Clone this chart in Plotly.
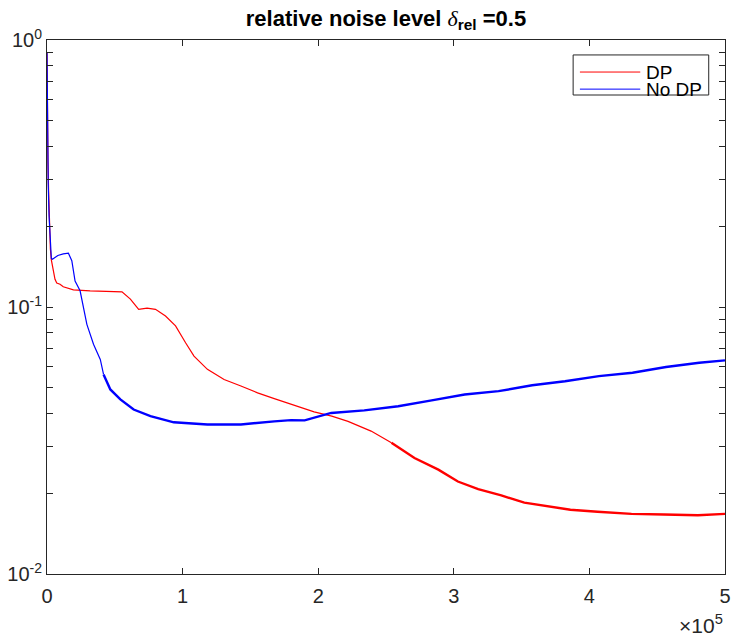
import plotly.graph_objects as go

# iterations (x) and relative error (y)
dp_x = [0, 150, 350, 700, 1200, 1800, 2500, 3200, 4200, 5900, 7200, 9600, 12000,
        19500, 31800, 45000, 55300, 61500, 67600, 73800, 80000, 87400, 94800,
        102200, 108400, 118300, 130600, 143000, 155300, 167600, 180000, 197000,
        210000, 222000, 239000, 254000, 271000, 288600, 303000, 318000, 335000,
        352000, 369000, 386000, 406000, 431000, 455000, 480000, 500000]
dp_y = [0.9, 0.62, 0.45, 0.35, 0.27, 0.2, 0.165, 0.15, 0.14, 0.127, 0.123, 0.1217, 0.119,
        0.116, 0.115, 0.1145, 0.114, 0.107, 0.098, 0.099, 0.098, 0.0925, 0.085,
        0.0735, 0.0655, 0.0584, 0.0535, 0.0506, 0.0477, 0.0454, 0.0433, 0.0405,
        0.039, 0.0373, 0.0343, 0.031, 0.0272, 0.0246, 0.0222, 0.0208, 0.0197,
        0.0185, 0.0179, 0.0174, 0.0171, 0.0168, 0.0167, 0.0166, 0.0168]

nodp_x = [0, 150, 300, 600, 900, 1500, 2500, 3200, 4000, 8000, 12000, 15800,
          18300, 20700, 24400, 26900, 29400, 34300, 39300, 41700, 46700, 54100,
          63900, 76300, 93500, 118300, 143000, 167600, 180000, 190000, 209600,
          234000, 259000, 283700, 308000, 333000, 357800, 382000, 407000, 431800,
          456500, 481000, 500000]
nodp_y = [0.9, 0.7, 0.5, 0.3, 0.29, 0.22, 0.17, 0.152, 0.151, 0.156, 0.158, 0.159,
          0.149, 0.125, 0.115, 0.0994, 0.0861, 0.0725, 0.0636, 0.0559, 0.0491, 0.0451,
          0.0413, 0.039, 0.037, 0.0363, 0.0363, 0.0373, 0.0377, 0.0376, 0.0401,
          0.041, 0.0425, 0.0447, 0.047, 0.0484, 0.0509, 0.0527, 0.0551, 0.0567,
          0.0596, 0.0618, 0.0631]

series_names = ["DP", "No DP"]
series_colors = ["#ff0000", "#0000ff"]

x_ticks = [0, 100000, 200000, 300000, 400000, 500000]
x_tick_text = ["0", "1", "2", "3", "4", "5"]
y_decades = [0.01, 0.1, 1]
y_decade_text = ["10<sup>-2</sup>", "10<sup>-1</sup>", "10<sup>0</sup>"]

# noisy tail drawn a bit thicker, like the jittery curve in the original
noise_from = [250000, 40000]

font_name = "Arial, Liberation Sans, sans-serif"
axis_color = "#262626"


def split(xs, ys, start):
    i = next(k for k, v in enumerate(xs) if v >= start)
    return (xs[:i + 1], ys[:i + 1]), (xs[i:], ys[i:])


y_tick_vals, y_tick_text = [], []
for d, t in zip(y_decades, y_decade_text):
    y_tick_vals.append(d)
    y_tick_text.append(t)
    if d < 1:
        for m in range(2, 10):
            y_tick_vals.append(d * m)
            y_tick_text.append("")

fig = go.Figure()
for name, xs, ys, start, color in zip(series_names, [dp_x, nodp_x], [dp_y, nodp_y],
                                      noise_from, series_colors):
    (sx, sy), (nx, ny) = split(xs, ys, start)
    fig.add_scatter(x=sx, y=sy, mode="lines", name=name, legendgroup=name,
                    line=dict(color=color, width=1.2))
    fig.add_scatter(x=nx, y=ny, mode="lines", name=name, legendgroup=name,
                    showlegend=False, line=dict(color=color, width=2.4))

# MATLAB-style legend box: tight rows, drawn in paper coordinates
fig.add_shape(type="rect", xref="paper", yref="paper", x0=0.776, x1=0.976,
              y0=0.897, y1=0.972, line=dict(color=axis_color, width=1),
              fillcolor="white", layer="above")
for k, (name, color) in enumerate(zip(series_names, series_colors)):
    row_y = 0.940 - k * 0.032
    fig.add_shape(type="line", xref="paper", yref="paper", x0=0.786, x1=0.875,
                  y0=row_y, y1=row_y, line=dict(color=color, width=1), layer="above")
    fig.add_annotation(text=name, xref="paper", yref="paper", x=0.881, y=row_y,
                       xanchor="left", yanchor="middle", showarrow=False,
                       font=dict(size=19, color="black"))

fig.update_layout(
    width=732,
    height=640,
    paper_bgcolor="white",
    plot_bgcolor="white",
    margin=dict(l=47, r=7, t=40, b=66),
    font=dict(family=font_name, size=20, color=axis_color),
    showlegend=False,
    title=dict(
        text="<b>relative noise level <span style=\"font-family:'Liberation Serif', serif;font-weight:normal\"><i>δ</i></span><sub>rel</sub> =0.5</b>",
        x=0.5,
        xref="paper",
        xanchor="center",
        y=0.972,
        yref="container",
        yanchor="middle",
        font=dict(size=22, color="black"),
    ),
)
fig.update_xaxes(
    range=[0, 500000],
    tickvals=x_ticks,
    ticktext=x_tick_text,
    ticks="inside",
    ticklen=6,
    tickcolor=axis_color,
    ticklabelstandoff=4,
    showline=True,
    linecolor=axis_color,
    linewidth=1,
    mirror="ticks",
    showgrid=False,
    zeroline=False,
    automargin=False,
)
fig.update_yaxes(
    type="log",
    range=[-2, 0],
    tickvals=y_tick_vals,
    ticktext=y_tick_text,
    ticks="inside",
    ticklen=6,
    tickcolor=axis_color,
    showline=True,
    linecolor=axis_color,
    linewidth=1,
    mirror="ticks",
    showgrid=False,
    zeroline=False,
    automargin=False,
)
fig.add_annotation(
    text="×10<sup>5</sup>",
    x=1.0,
    xref="paper",
    xanchor="right",
    y=-0.122,
    yref="paper",
    yanchor="bottom",
    showarrow=False,
    font=dict(size=21, color=axis_color),
)

fig.write_html("out.html", config={"displayModeBar": False},
               post_script="document.body.style.margin='0';")
